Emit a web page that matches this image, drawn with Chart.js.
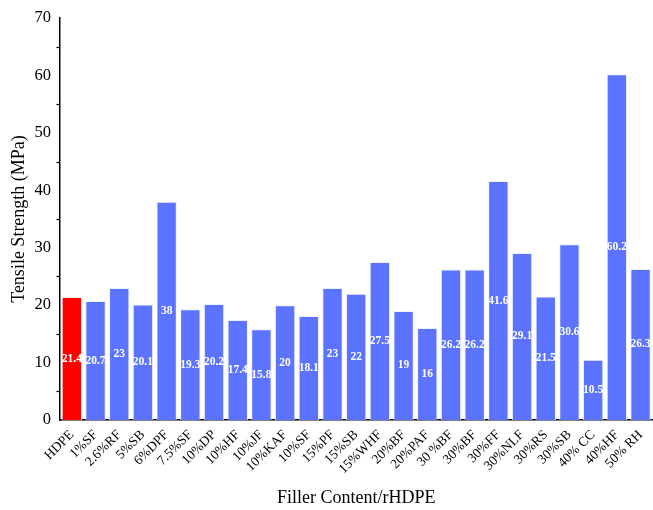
<!DOCTYPE html>
<html><head><meta charset="utf-8">
<script src="https://cdn.jsdelivr.net/npm/chart.js@4/dist/chart.umd.min.js"></script>
<style>html,body{margin:0;padding:0;background:#fff;}#wrap{width:653px;height:510px;}</style>
</head><body><div id="wrap"><canvas id="c" width="653" height="510"></canvas></div>
<script>
const categories = ['HDPE','1%SF','2.6%RF','5%SB','6%DPF','7.5%SF','10%DP','10%HF','10%JF','10%KAF','10%SF','15%PF','15%SB','15%WHF','20%BF','20%PAF','30 %BF','30%BF','30%FF','30%NLF','30%RS','30%SB','40% CC','40%HF','50% RH'];
const tensile = [21.4,20.7,23,20.1,38,19.3,20.2,17.4,15.8,20,18.1,23,22,27.5,19,16,26.2,26.2,41.6,29.1,21.5,30.6,10.5,60.2,26.3];
const yTicks = [0,10,20,30,40,50,60,70];
const minorTicks = [5,15,25,35,45,55,65];

const SERIF = '"Liberation Serif","Times New Roman",serif';
const colors = tensile.map((v,i)=> i===0 ? '#FF0000' : '#5B73FF');

const extras = {
  id:'extras',
  afterDatasetsDraw(chart){
    const ctx = chart.ctx;
    const meta = chart.getDatasetMeta(0);
    const y = chart.scales.y;
    ctx.save();
    ctx.fillStyle = '#fff';
    ctx.font = 'bold 11.5px ' + SERIF;
    ctx.textAlign = 'center';
    ctx.textBaseline = 'middle';
    meta.data.forEach((bar,i)=>{
      const mid = (bar.y + bar.base)/2;
      ctx.fillText(String(tensile[i]), bar.x, mid);
    });
    ctx.strokeStyle = '#000';
    ctx.lineWidth = 1.2;
    const left = chart.chartArea.left;
    minorTicks.forEach(v=>{
      const py = Math.round(y.getPixelForValue(v))+0.5;
      ctx.beginPath(); ctx.moveTo(left, py); ctx.lineTo(left-3.5, py); ctx.stroke();
    });
    ctx.restore();
  }
};

new Chart(document.getElementById('c'), {
  type:'bar',
  data:{ labels: categories, datasets:[{ data: tensile, backgroundColor: colors, borderColor: 'rgba(235,240,255,0.9)', borderWidth: 1, categoryPercentage: 0.86, barPercentage: 1.0 }]},
  options:{
    responsive:false, animation:false,
    layout:{ padding:{ top:18, right:0, left:0, bottom:0 } },
    plugins:{ legend:{display:false}, tooltip:{enabled:false} },
    scales:{
      x:{
        grid:{ display:false, drawTicks:true, tickLength:6, tickColor:'#000', tickWidth:1.2 },
        border:{ display:true, color:'#000', width:1.5 },
        ticks:{ color:'#000', font:{ family:SERIF, size:13.5 }, maxRotation:45, minRotation:45, autoSkip:false, padding:1 },
        title:{ display:true, text:'Filler Content/rHDPE', color:'#000', font:{ family:SERIF, size:18 }, padding:{ top:0, bottom:1 } },
        afterFit(s){ s.height = 90; }
      },
      y:{
        min:0, max:70,
        afterBuildTicks(s){ s.ticks = yTicks.map(v=>({value:v})); },
        grid:{ display:false, drawTicks:true, tickLength:6, tickColor:'#000', tickWidth:1.2 },
        border:{ display:true, color:'#000', width:1.5 },
        ticks:{ color:'#000', font:{ family:SERIF, size:16.5 }, padding:3 },
        title:{ display:true, text:'Tensile Strength (MPa)', color:'#000', font:{ family:SERIF, size:18 }, padding:{ top:8, bottom:0 } },
        afterFit(s){ s.width = 60; }
      }
    }
  },
  plugins:[extras]
});
</script></body></html>
